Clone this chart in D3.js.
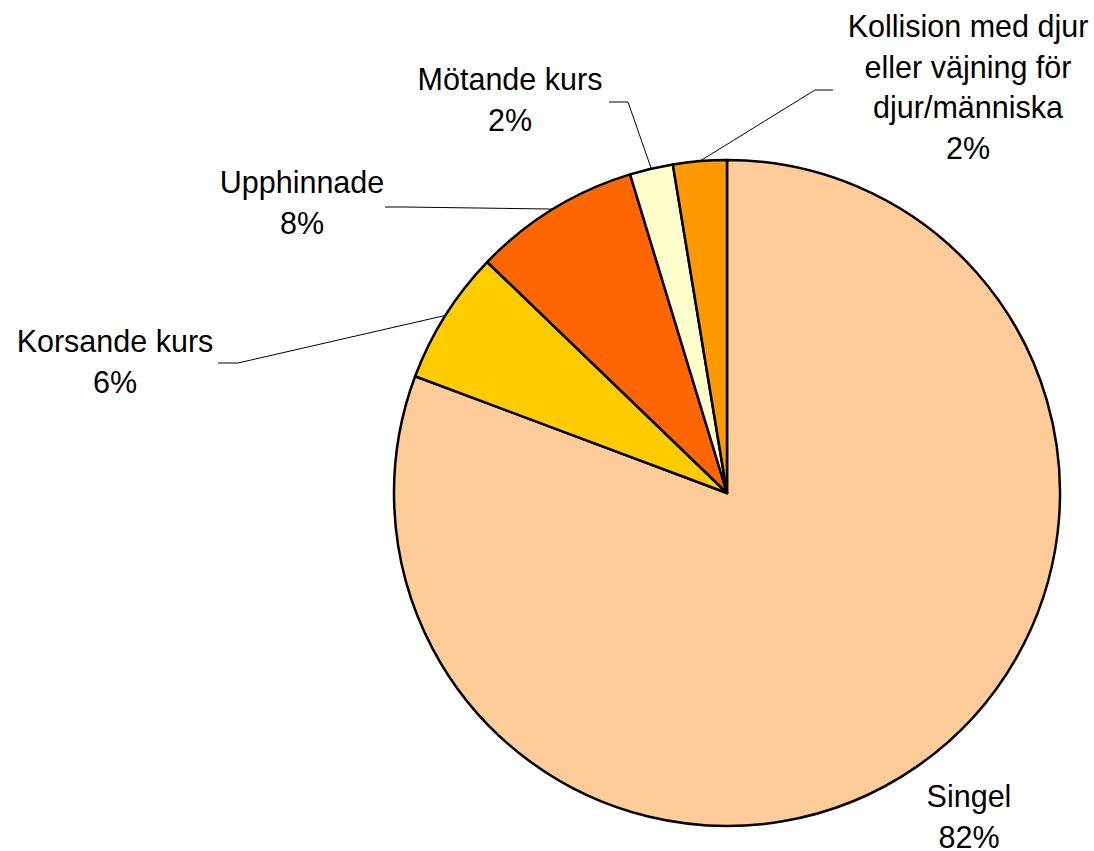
<!DOCTYPE html>
<html>
<head>
<meta charset="utf-8">
<script src="https://cdn.jsdelivr.net/npm/d3@7"></script>
<style>
    body { margin: 0; background: #ffffff; }
    text { font-family: "Liberation Sans", Arial, sans-serif; }
</style>
</head>
<body>
<div id="chart"></div>
<script>
// slices, clockwise from 12 o'clock
var categories = ["Singel", "Korsande kurs", "Upphinnade", "Mötande kurs", "Kollision med djur eller väjning för djur/människa"];
var values = [80.7, 6.5, 8.1, 2.1, 2.6];
var pctLabels = ["82%", "6%", "8%", "2%", "2%"];
var labelLines = [
    ["Singel"],
    ["Korsande kurs"],
    ["Upphinnade"],
    ["Mötande kurs"],
    ["Kollision med djur", "eller väjning för", "djur/människa"]
];
var colors = ["#FFCC99", "#FFCC00", "#FF6600", "#FFFFCC", "#FF9900"];

var width = 1094;
var height = 851;
var cx = 727, cy = 493, radius = 333;

// where the text block sits (centre x, first baseline) and the leader elbow
var layout = [
    { x: 969, y: 807, leader: null },
    { x: 115, y: 352, leader: [218, 238, 363] },
    { x: 302, y: 193, leader: [385, 405, 207] },
    { x: 510, y: 90, leader: [609, 628, 102] },
    { x: 968, y: 37, leader: [833, 815, 90] }
];
var lineH = 40.5;

var svg = d3.select("#chart").append("svg")
    .attr("width", width)
    .attr("height", height);

var data = categories.map(function (c, i) {
    return { name: c, value: values[i], pct: pctLabels[i], lines: labelLines[i], color: colors[i], pos: layout[i] };
});

var pie = d3.pie()
    .sort(null)
    .value(function (d) { return d.value; });

var arc = d3.arc()
    .innerRadius(0)
    .outerRadius(radius);

var g = svg.append("g")
    .attr("transform", "translate(" + cx + "," + cy + ")");

var arcs = pie(data);

g.selectAll("path.slice")
    .data(arcs)
    .enter()
    .append("path")
    .attr("class", "slice")
    .attr("d", arc)
    .attr("fill", function (d) { return d.data.color; })
    .attr("stroke", "#000000")
    .attr("stroke-width", 2.5)
    .attr("stroke-linejoin", "round");

// leader lines from the slice mid-angle on the rim
svg.selectAll("polyline.leader")
    .data(arcs.filter(function (d) { return d.data.pos.leader; }))
    .enter()
    .append("polyline")
    .attr("class", "leader")
    .attr("points", function (d) {
        var a = (d.startAngle + d.endAngle) / 2;
        var px = cx + radius * Math.sin(a);
        var py = cy - radius * Math.cos(a);
        var l = d.data.pos.leader;
        return [[l[0], l[2]], [l[1], l[2]], [px, py]].join(" ");
    })
    .attr("fill", "none")
    .attr("stroke", "#000000")
    .attr("stroke-width", 1);

var labels = svg.selectAll("text.label")
    .data(arcs)
    .enter()
    .append("text")
    .attr("class", "label")
    .attr("text-anchor", "middle")
    .style("font-size", "30.5px")
    .attr("fill", "#000000");

labels.each(function (d) {
    var t = d3.select(this);
    var lines = d.data.lines.concat([d.data.pct]);
    lines.forEach(function (s, i) {
        t.append("tspan")
            .attr("x", d.data.pos.x)
            .attr("y", d.data.pos.y + i * lineH)
            .text(s);
    });
});
</script>
</body>
</html>
